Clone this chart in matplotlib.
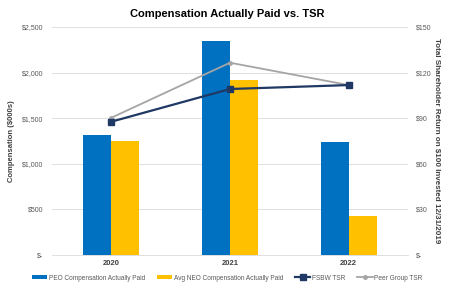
import numpy as np
import matplotlib.pyplot as plt
from matplotlib.ticker import FuncFormatter

plt.rcParams['font.family'] = ['Liberation Sans', 'DejaVu Sans']

years = ['2020', '2021', '2022']
peo_cap = [1320, 2345, 1242]
neo_cap = [1250, 1920, 431]
fsbw_tsr = [87.7, 109.2, 111.8]
peer_tsr = [90.3, 126.5, 111.8]

blue = '#0070C0'
gold = '#FFC000'
navy = '#1F3864'
gray = '#A5A5A5'
txt = '#595959'

fig = plt.figure(figsize=(4.54, 2.88), dpi=100)
ax = fig.add_axes([52/454, 33/288, 356/454, 228/288])
ax2 = ax.twinx()

x = np.arange(len(years))
w = 0.235
b1 = ax.bar(x - w/2, peo_cap, w, color=blue, label='PEO Compensation Actually Paid', zorder=2)
b2 = ax.bar(x + w/2, neo_cap, w, color=gold, label='Avg NEO Compensation Actually Paid', zorder=2)

l1, = ax2.plot(x, fsbw_tsr, color=navy, lw=1.6, marker='s', ms=4, label='FSBW TSR', zorder=4)
l2, = ax2.plot(x, peer_tsr, color=gray, lw=1.3, marker='o', ms=2.5, label='Peer Group TSR', zorder=3)

ax.set_xlim(-0.5, 2.5)
ax.set_ylim(0, 2500)
ax2.set_ylim(0, 150)
ax.set_yticks(np.arange(0, 2501, 500))
ax2.set_yticks(np.arange(0, 151, 30))

ax.yaxis.set_major_formatter(FuncFormatter(lambda v, p: '$-' if v == 0 else f'${v:,.0f}'))
ax2.yaxis.set_major_formatter(FuncFormatter(lambda v, p: '$-' if v == 0 else f'${v:.0f}'))

ax.grid(axis='y', color='#D9D9D9', lw=0.6, zorder=0)
ax.set_axisbelow(True)
for a in (ax, ax2):
    for s in a.spines.values():
        s.set_visible(False)
    a.tick_params(length=0, labelsize=5, labelcolor=txt)
ax.spines['bottom'].set_visible(True)
ax.spines['bottom'].set_color('#D9D9D9')
ax.spines['bottom'].set_linewidth(0.6)
ax.tick_params(axis='y', pad=6.5)
ax2.tick_params(axis='y', pad=6)

ax.set_xticks(x)
ax.set_xticklabels(years, fontsize=5.5, fontweight='bold', color='#404040')
ax.tick_params(axis='x', pad=3.5)

ax.set_ylabel('Compensation ($000s)', fontsize=5.5, fontweight='bold', color='#404040', labelpad=5)
ax2.set_ylabel('Total Shareholder Return on $100 Invested 12/31/2019', fontsize=5.8,
               fontweight='bold', color='#404040', rotation=270, labelpad=6)

fig.suptitle('Compensation Actually Paid vs. TSR', fontsize=8, fontweight='bold', y=0.97)

fig.legend(handles=[b1, b2, l1, l2], loc='center', bbox_to_anchor=(0.5, 10/288),
           ncol=4, frameon=False, fontsize=4.7, labelcolor=txt, handlelength=2.4,
           handleheight=0.5, handletextpad=0.2, columnspacing=1.8)

fig.savefig('out.png', dpi=100)
